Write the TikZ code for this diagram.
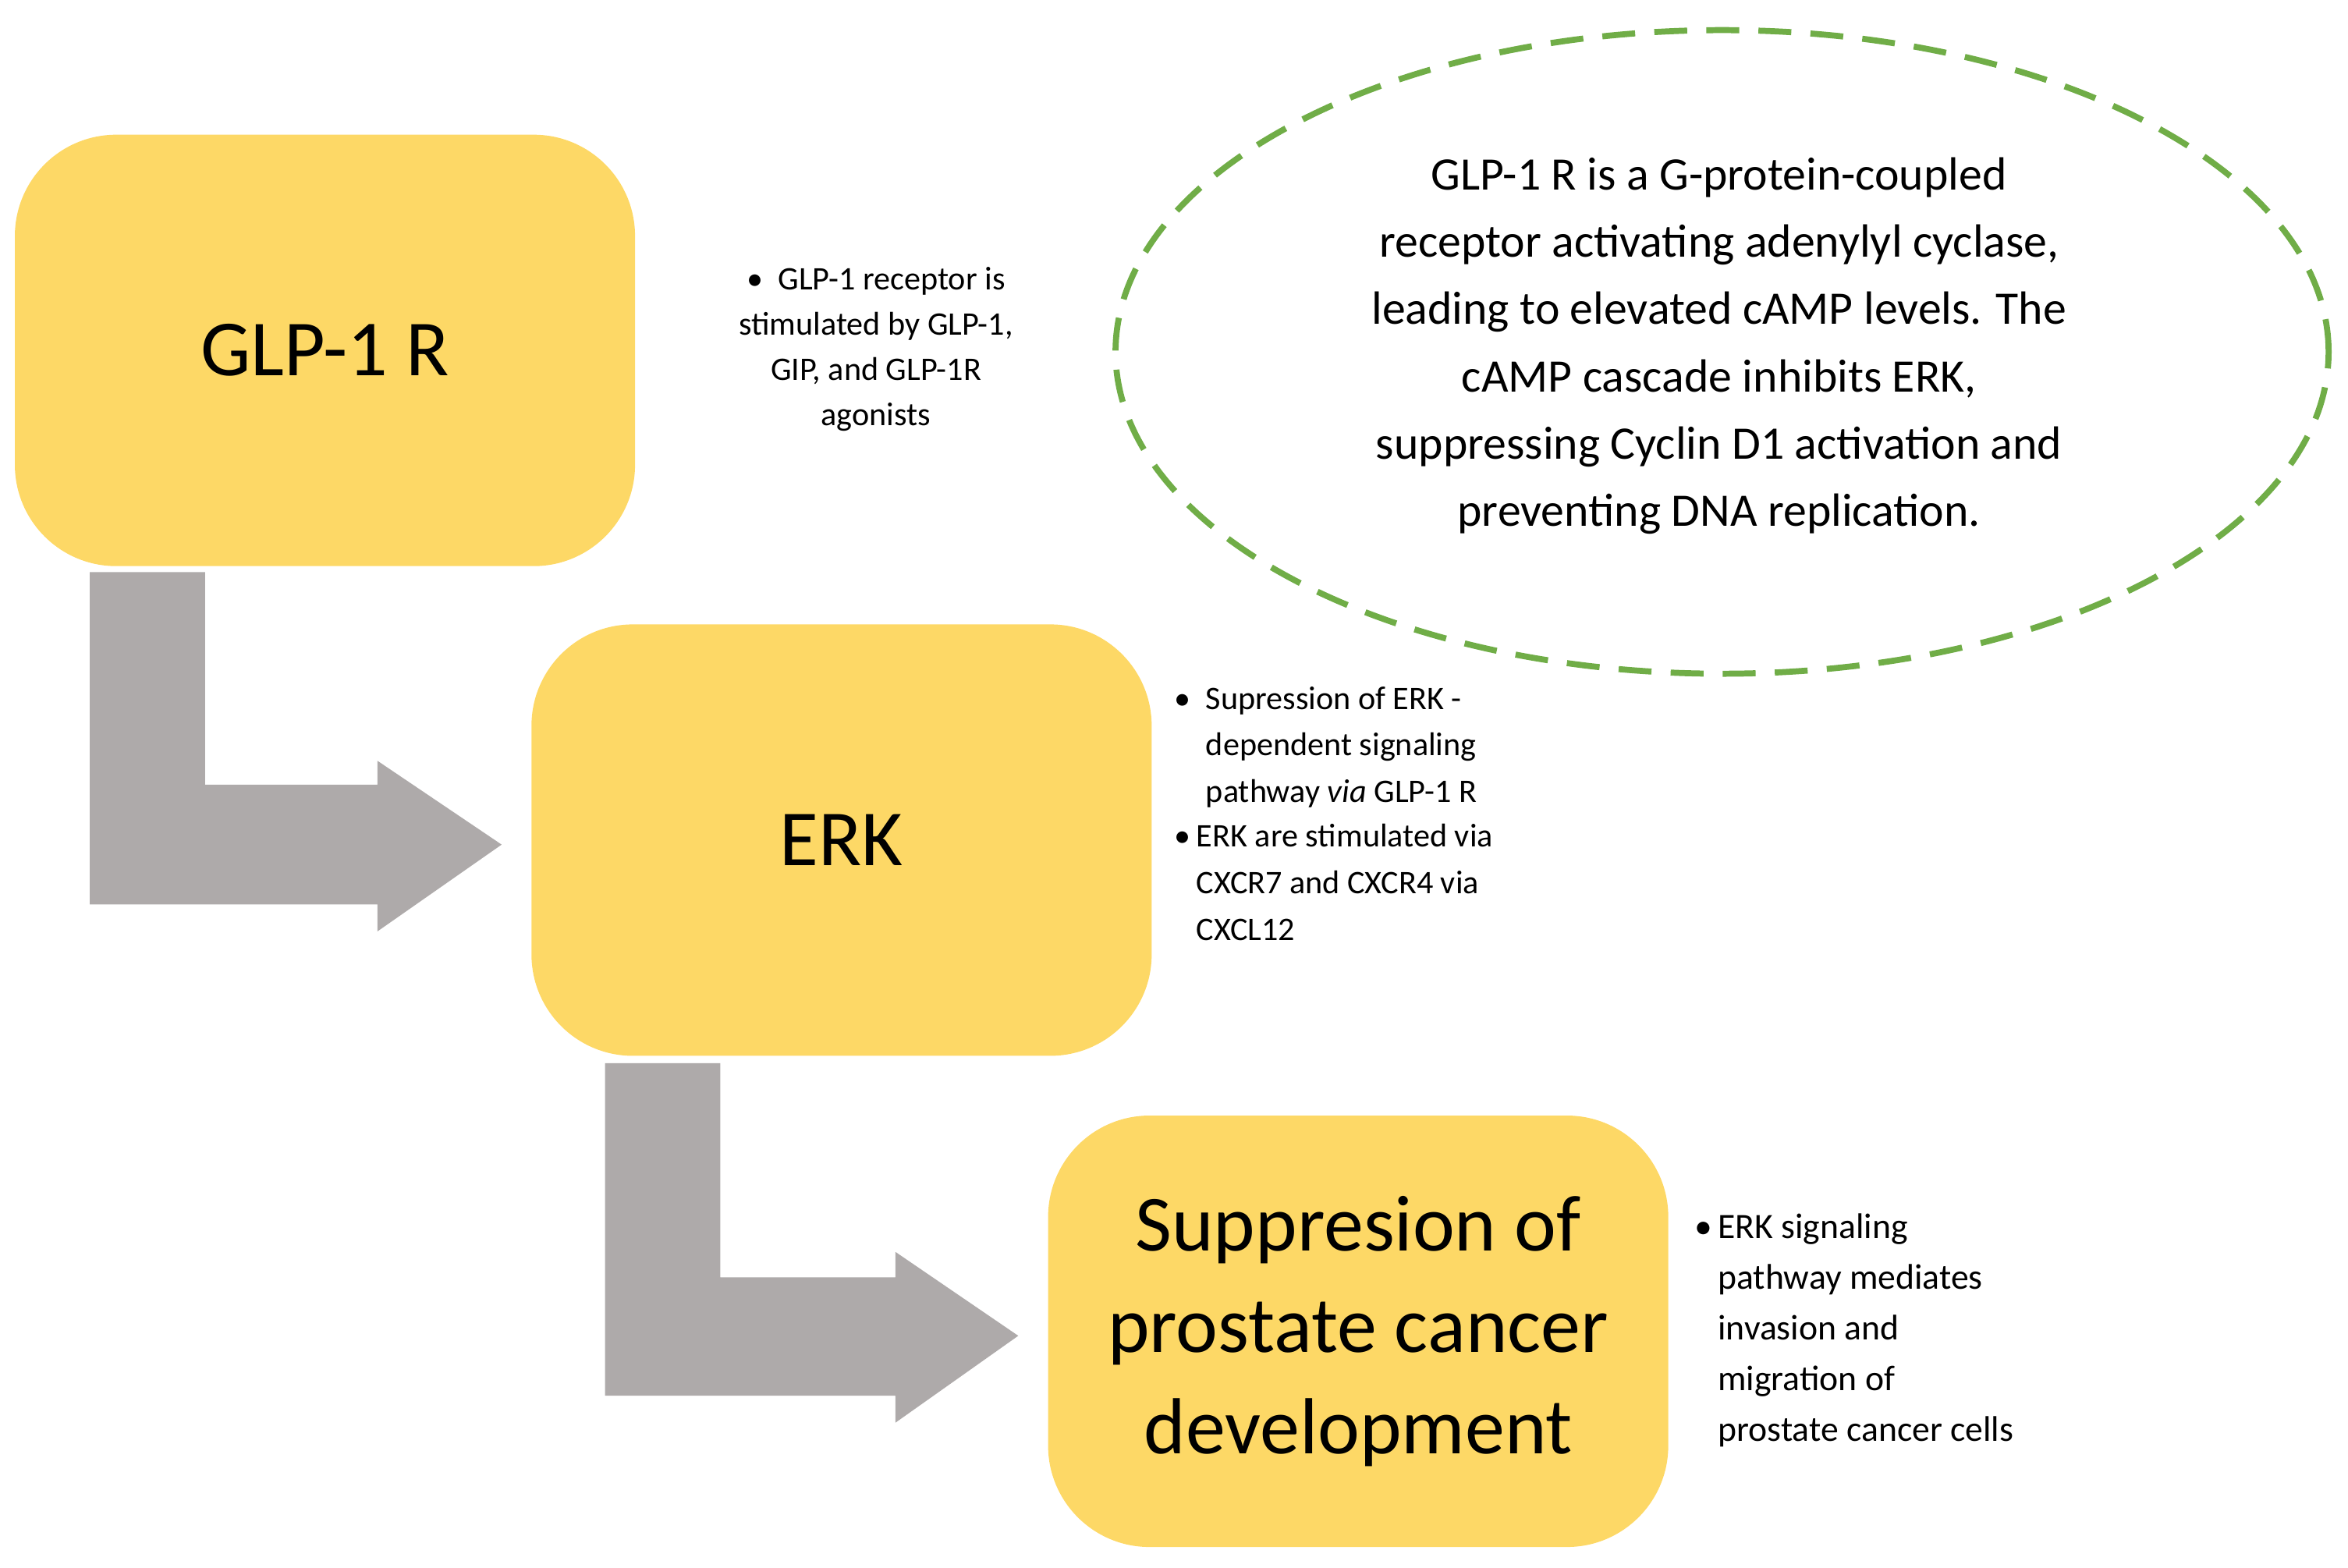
\documentclass[tikz,border=0pt]{standalone}
\usepackage{fontspec}
\setmainfont{Carlito}
\usetikzlibrary{shapes.geometric,shapes.arrows}
\tikzstyle{stage}=[rectangle,rounded corners=1.3cm,fill=yellow!55!orange!60,minimum width=7.95cm,minimum height=5.53cm,align=center,font=\fontsize{29}{34}\selectfont]
\tikzstyle{note}=[align=left,font=\fontsize{12}{17}\selectfont,anchor=north west]
\tikzstyle{bend}=[fill=black!33!red!3!gray!70]

\begin{document}
\begin{tikzpicture}[x=0.0192cm,y=-0.0192cm]
    \useasboundingbox (0,0) rectangle (1568,1047);
    \colorlet{boxc}{yellow!60!orange!70}

    % stages
    \node[stage,fill={rgb,255:red,253;green,216;blue,102}] (glp) at (217,234) {GLP-1 R};
    \node[stage,fill={rgb,255:red,253;green,216;blue,102}] (erk) at (562,561) {ERK};
    \node[stage,fill={rgb,255:red,253;green,216;blue,102},font=\fontsize{29}{37}\selectfont] (sup) at (907,889) {Suppresion of\\prostate cancer\\development};

    % bent arrows
    \coordinate (t1) at (335,564);
    \coordinate (t2) at (680,892);
    \fill[fill={rgb,255:red,174;green,170;blue,170}] (60,382) -- (137,382) -- (137,524) -- (252,524) -- (252,508)
        -- (t1) -- (252,622) -- (252,604) -- (60,604) -- cycle;
    \fill[fill={rgb,255:red,174;green,170;blue,170}] (404,710) -- (481,710) -- (481,853) -- (598,853) -- (598,836)
        -- (t2) -- (598,950) -- (598,932) -- (404,932) -- cycle;

    % ellipse
    \node[ellipse,draw={rgb,255:red,112;green,173;blue,71},line width=2.2pt,dash pattern=on 12pt off 7pt,
          minimum width=15.55cm,minimum height=8.25cm] (cloud) at (1150,235) {};
    \node[align=center,font=\fontsize{17}{24.5}\selectfont] (ctext) at (1148,231)
        {GLP-1 R is a G-protein-coupled\\receptor activating adenylyl cyclase,\\leading to elevated cAMP levels. The\\cAMP cascade inhibits ERK,\\suppressing Cyclin D1 activation and\\preventing DNA replication.};

    % notes
    \node[align=center,font=\fontsize{12}{16.5}\selectfont] (n1) at (585,233)
        {\textbullet\ \ GLP-1 receptor is\\stimulated by GLP-1,\\GIP, and GLP-1R\\agonists};
    \node[note] (n2) at (778,452)
        {\textbullet\ \ Supression of ERK -\\\hphantom{\textbullet\ \ }dependent signaling\\\hphantom{\textbullet\ \ }pathway \textit{via} GLP-1 R};
    \node[note] (n3) at (778,544)
        {\textbullet\,ERK are stimulated via\\\hphantom{\textbullet\,}CXCR7 and CXCR4 via\\\hphantom{\textbullet\,}CXCL12};
    \node[note,font=\fontsize{13}{18.5}\selectfont] (n4) at (1125,804)
        {\textbullet\,ERK signaling\\\hphantom{\textbullet\,}pathway mediates\\\hphantom{\textbullet\,}invasion and\\\hphantom{\textbullet\,}migration of\\\hphantom{\textbullet\,}prostate cancer cells};
\end{tikzpicture}
\end{document}
